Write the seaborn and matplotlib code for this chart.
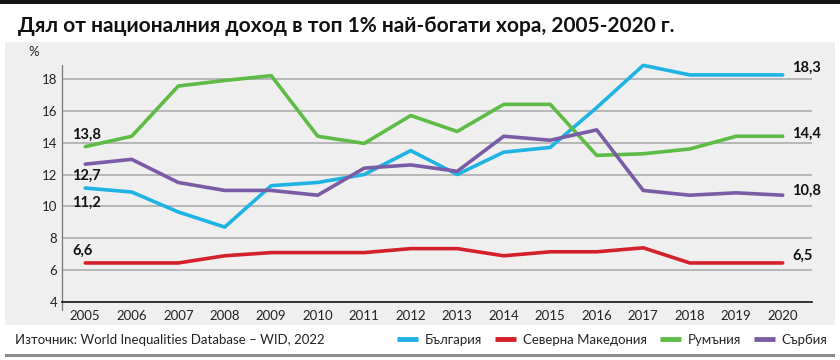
import numpy as np
import pandas as pd
import matplotlib.pyplot as plt
import matplotlib.patches as mpatches
import seaborn as sns

years = list(range(2005, 2021))
bulgaria = [11.15, 10.9, 9.65, 8.7, 11.3, 11.5, 12.0, 13.5, 12.0, 13.4, 13.7, 16.2, 18.85, 18.25, 18.25, 18.25]
macedonia = [6.45, 6.45, 6.45, 6.9, 7.1, 7.1, 7.1, 7.35, 7.35, 6.9, 7.15, 7.15, 7.4, 6.45, 6.45, 6.45]
romania = [13.75, 14.4, 17.55, 17.9, 18.2, 14.4, 13.95, 15.7, 14.7, 16.4, 16.4, 13.2, 13.3, 13.6, 14.4, 14.4]
serbia = [12.65, 12.95, 11.5, 11.0, 11.0, 10.7, 12.4, 12.6, 12.2, 14.4, 14.15, 14.8, 11.0, 10.7, 10.85, 10.7]

countries = ['България', 'Северна Македония', 'Румъния', 'Сърбия']
colors = ['#1fb3e3', '#d3202b', '#5dbb46', '#7a5ba6']
start_labels = ['11,2', '6,6', '13,8', '12,7']
end_labels = ['18,3', '6,5', '14,4', '10,8']

df = pd.DataFrame({
    'year': years * 4,
    'value': bulgaria + macedonia + romania + serbia,
    'country': np.repeat(countries, len(years)),
})

sns.set_style('white')
plt.rcParams['font.family'] = ['Lato', 'DejaVu Sans']

fig = plt.figure(figsize=(8.4, 3.6), dpi=100)

# background panel, top rule and bottom rule
fig.patches.append(mpatches.Rectangle((5/840, 35/360), 830/840, 283/360, transform=fig.transFigure,
                                      facecolor='#efefef', edgecolor='none', zorder=-5))
fig.patches.append(mpatches.Rectangle((0, 356/360), 1, 4/360, transform=fig.transFigure,
                                      facecolor='#111111', edgecolor='none', zorder=-5))
fig.patches.append(mpatches.Rectangle((5/840, 3/360), 830/840, 3/360, transform=fig.transFigure,
                                      facecolor='#8a8a8a', edgecolor='none', zorder=-5))

fig.text(18/840, 334/360, 'Дял от националния доход в топ 1% най-богати хора, 2005-2020 г.',
         fontsize=15, fontweight='bold', va='center', ha='left', color='#111111')

ax = fig.add_axes([62/840, 58/360, 750/840, 255/360])
ax.set_facecolor('none')
sns.lineplot(data=df, x='year', y='value', hue='country', palette=colors, hue_order=countries,
             linewidth=2.6, ax=ax, legend=False)

ax.set_xlim(2004.5, 2020.63)
ax.set_ylim(4, 20)
ax.set_yticks(range(4, 20, 2))
ax.set_xticks(years)
ax.tick_params(axis='both', length=0, labelsize=9.5, colors='#222222')
ax.tick_params(axis='x', pad=6)
for y in range(6, 20, 2):
    ax.axhline(y, color='#a8a8a8', linewidth=1.1, zorder=0)
ax.set_xlabel('')
ax.set_ylabel('')
for s in ['top', 'right', 'left']:
    ax.spines[s].set_visible(False)
ax.spines['bottom'].set_color('#111111')
ax.spines['bottom'].set_linewidth(1.2)
ax.plot([0, 0], [-0.03, 0.93], transform=ax.transAxes, color='#777777', linewidth=0.9, clip_on=False)
ax.text(-0.045, 0.98, '%', transform=ax.transAxes, fontsize=9.5, ha='left', va='center', color='#222222')

start_y = [10.2, 7.2, 14.5, 11.9]
end_y = [18.7, 6.9, 14.55, 10.95]
for lab, y in zip(start_labels, start_y):
    ax.text(2004.72, y, lab, fontsize=10.5, fontweight='bold', ha='left', va='center', color='#111111')
for lab, y in zip(end_labels, end_y):
    ax.text(2020.2, y, lab, fontsize=10.5, fontweight='bold', ha='left', va='center', color='#111111')

fig.text(15/840, 20/360, 'Източник: World Inequalities Database – WID, 2022', fontsize=9.5,
         ha='left', va='center', color='#222222')
handles = [plt.Line2D([], [], color=c, linewidth=3.5, solid_capstyle='butt') for c in colors]
fig.legend(handles, countries, loc='center right', bbox_to_anchor=(833/840, 20/360), ncol=4,
           frameon=False, fontsize=9.5, handlelength=1.6, handletextpad=0.5, columnspacing=1.0,
           borderaxespad=0)

fig.savefig('out.png', dpi=100)
